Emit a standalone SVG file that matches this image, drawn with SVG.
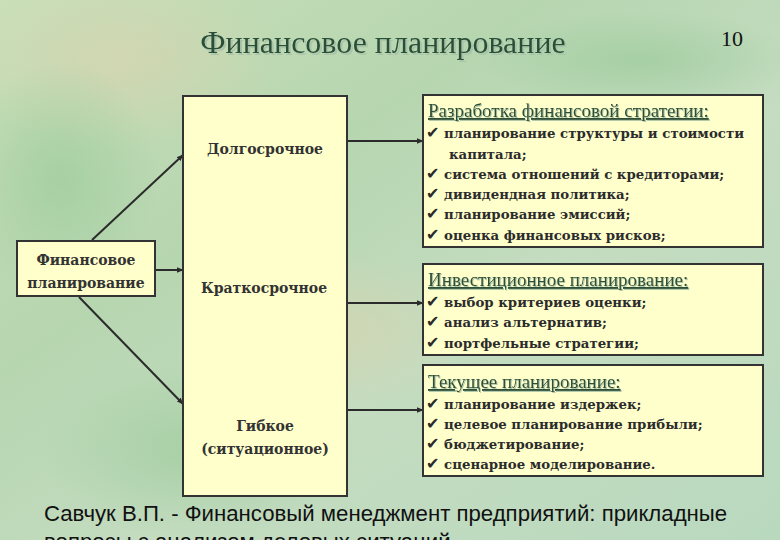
<svg xmlns="http://www.w3.org/2000/svg" width="780" height="540" viewBox="0 0 780 540">
<defs>
<linearGradient id="bg" x1="0" y1="0" x2="1" y2="1">
<stop offset="0" stop-color="#c9dfb8"/>
<stop offset="0.35" stop-color="#b6d6b0"/>
<stop offset="0.6" stop-color="#c4dcc0"/>
<stop offset="1" stop-color="#b9d9bf"/>
</linearGradient>
<radialGradient id="warm" cx="0.5" cy="0.5" r="0.5">
<stop offset="0" stop-color="#d8d4b0" stop-opacity="0.7"/>
<stop offset="1" stop-color="#d8d4b0" stop-opacity="0"/>
</radialGradient>
<radialGradient id="green" cx="0.5" cy="0.5" r="0.5">
<stop offset="0" stop-color="#9ccb9c" stop-opacity="0.7"/>
<stop offset="1" stop-color="#9ccb9c" stop-opacity="0"/>
</radialGradient>
<filter id="sh" x="-5%" y="-20%" width="110%" height="150%">
<feOffset in="SourceAlpha" dx="2" dy="2" result="o"/>
<feFlood flood-color="#a9c4a9"/>
<feComposite in2="o" operator="in" result="s"/>
<feMerge><feMergeNode in="s"/><feMergeNode in="SourceGraphic"/></feMerge>
</filter>
<filter id="sh1" x="-5%" y="-20%" width="110%" height="150%">
<feOffset in="SourceAlpha" dx="1" dy="1" result="o"/>
<feFlood flood-color="#a9c4a9"/>
<feComposite in2="o" operator="in" result="s"/>
<feMerge><feMergeNode in="s"/><feMergeNode in="SourceGraphic"/></feMerge>
</filter>
<marker id="ah" viewBox="0 0 10 10" refX="9" refY="5" markerWidth="7" markerHeight="7" orient="auto" markerUnits="userSpaceOnUse">
<path d="M0,1 L10,5 L0,9 z" fill="#2b2b2b"/>
</marker>
</defs>
<style>
.box{fill:#ffffcc;stroke:#333333;stroke-width:2}
.lbl{font-family:"DejaVu Serif","Liberation Serif",serif;font-weight:bold;font-size:14px;fill:#333333;text-anchor:middle}
.item{font-family:"DejaVu Serif","Liberation Serif",serif;font-weight:bold;font-size:13.3px;fill:#2b2b2b}
.ck{font-family:"DejaVu Sans",sans-serif;font-weight:normal;font-size:16px}
.hd{font-family:"Liberation Serif","DejaVu Serif",serif;font-size:19px;fill:#2e4f36;text-decoration:underline}
.conn{stroke:#2b2b2b;stroke-width:2;fill:none}
</style>
<rect width="780" height="540" fill="url(#bg)"/>
<ellipse cx="120" cy="60" rx="160" ry="90" fill="url(#warm)"/>
<ellipse cx="330" cy="330" rx="140" ry="80" fill="url(#warm)"/>
<ellipse cx="60" cy="180" rx="100" ry="120" fill="url(#green)"/>
<ellipse cx="200" cy="450" rx="160" ry="90" fill="url(#green)"/>
<ellipse cx="640" cy="60" rx="160" ry="50" fill="url(#green)"/>

<g id="title">
<text x="383" y="53" font-family="Liberation Serif,DejaVu Serif,serif" font-size="32" fill="#2a5038" text-anchor="middle" filter="url(#sh)">Финансовое планирование</text>
</g>
<g id="pagenum">
<text x="732" y="46" font-family="Liberation Serif,DejaVu Serif,serif" font-size="22" fill="#111111" text-anchor="middle">10</text>
</g>

<g id="connectors">
<line class="conn" x1="92" y1="240" x2="183" y2="155" marker-end="url(#ah)"/>
<line class="conn" x1="155" y1="270" x2="183" y2="270" marker-end="url(#ah)"/>
<line class="conn" x1="79" y1="297" x2="183" y2="404" marker-end="url(#ah)"/>
<line class="conn" x1="348" y1="141" x2="423" y2="141" marker-end="url(#ah)"/>
<line class="conn" x1="348" y1="303" x2="423" y2="303" marker-end="url(#ah)"/>
<line class="conn" x1="348" y1="410" x2="423" y2="410" marker-end="url(#ah)"/>
</g>

<g id="root">
<rect class="box" x="17" y="241" width="138" height="55"/>
<text class="lbl" x="86" y="265">Финансовое</text>
<text class="lbl" x="86" y="288">планирование</text>
</g>

<g id="types">
<rect class="box" x="183" y="96" width="164" height="400"/>
<text class="lbl" x="265" y="154">Долгосрочное</text>
<text class="lbl" x="264" y="293">Краткосрочное</text>
<text class="lbl" x="265" y="431">Гибкое</text>
<text class="lbl" x="265" y="454">(ситуационное)</text>
</g>

<g id="strategy">
<rect class="box" x="423" y="95" width="340" height="152"/>
<text class="hd" x="428" y="117" filter="url(#sh1)">Разработка финансовой стратегии: </text>
<text class="item" x="426" y="138"><tspan class="ck">✔</tspan> планирование структуры и стоимости</text>
<text class="item" x="449" y="159">капитала;</text>
<text class="item" x="426" y="179"><tspan class="ck">✔</tspan> система отношений с кредиторами;</text>
<text class="item" x="426" y="199"><tspan class="ck">✔</tspan> дивидендная политика;</text>
<text class="item" x="426" y="219"><tspan class="ck">✔</tspan> планирование эмиссий;</text>
<text class="item" x="426" y="240"><tspan class="ck">✔</tspan> оценка финансовых рисков;</text>
</g>

<g id="investment">
<rect class="box" x="423" y="264" width="340" height="91"/>
<text class="hd" x="428" y="286" filter="url(#sh1)">Инвестиционное планирование:</text>
<text class="item" x="426" y="307"><tspan class="ck">✔</tspan> выбор критериев оценки;</text>
<text class="item" x="426" y="327"><tspan class="ck">✔</tspan> анализ альтернатив;</text>
<text class="item" x="426" y="348"><tspan class="ck">✔</tspan> портфельные стратегии;</text>
</g>

<g id="current">
<rect class="box" x="423" y="365" width="340" height="111"/>
<text class="hd" x="428" y="388" filter="url(#sh1)">Текущее планирование:</text>
<text class="item" x="426" y="409"><tspan class="ck">✔</tspan> планирование издержек;</text>
<text class="item" x="426" y="429"><tspan class="ck">✔</tspan> целевое планирование прибыли;</text>
<text class="item" x="426" y="449"><tspan class="ck">✔</tspan> бюджетирование;</text>
<text class="item" x="426" y="469"><tspan class="ck">✔</tspan> сценарное моделирование.</text>
</g>

<g id="source">
<text x="44" y="521" font-family="Liberation Sans,Arial,sans-serif" font-size="22.2" fill="#111111">Савчук В.П. - Финансовый менеджмент предприятий: прикладные</text>
<text x="44" y="549" font-family="Liberation Sans,Arial,sans-serif" font-size="22.2" fill="#111111">вопросы с анализом деловых ситуаций</text>
</g>
</svg>
